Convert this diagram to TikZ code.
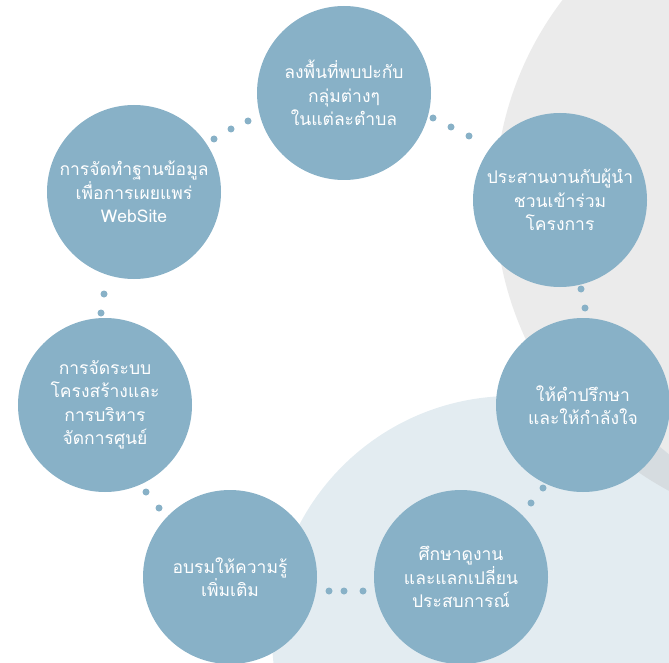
\documentclass[tikz,border=0pt]{standalone}
\usepackage{fontspec}
\newfontfamily\thaifont[Script=Thai]{Loma}
\definecolor{circ}{HTML}{88B1C7}
\definecolor{greybg}{HTML}{EBEBEB}
\definecolor{bluebg}{HTML}{E3ECF1}
\definecolor{overlapbg}{HTML}{D6DCE0}
\begin{document}
\begin{tikzpicture}[x=1pt,y=-1pt,
  stepcircle/.style={circle, fill=circ, minimum size=174pt, inner sep=0pt,
    text=white, align=center, font=\thaifont\fontsize{17.5}{23.5}\selectfont},
  dot/.style={circle, fill=circ, minimum size=7pt, inner sep=0pt}]
\useasboundingbox (0,0) rectangle (669,663);
\clip (0,0) rectangle (669,663);
% background shapes
\fill[greybg] (825,200) circle (330pt);
\fill[bluebg] (512,636) circle (240pt);
\begin{scope}
  \clip (825,200) circle (330pt);
  \fill[overlapbg] (512,636) circle (240pt);
\end{scope}
% dots
\foreach \x/\y in {214/139, 231/129, 248/121,
                   433/118, 451/127, 469/136,
                   581/289, 585/308,
                   543/488, 531/503,
                   329/591, 344/591, 363/591,
                   146/492, 159/508,
                   104/294, 101/313}
  \node[dot] at (\x,\y) {};
% circles
\node[stepcircle] (A) at (344,93) {ลงพื้นที่พบปะกับ\\กลุ่มต่างๆ\\ในแต่ละตำบล};
\node[stepcircle] (B) at (560,200) {ประสานงานกับผู้นำ\\ชวนเข้าร่วม\\โครงการ};
\node[stepcircle] (C) at (583,405) {ให้คำปรึกษา\\และให้กำลังใจ};
\node[stepcircle] (D) at (461,577) {ศึกษาดูงาน\\และแลกเปลี่ยน\\ประสบการณ์};
\node[stepcircle] (E) at (230,577) {อบรมให้ความรู้\\เพิ่มเติม};
\node[stepcircle] (F) at (105,405) {การจัดระบบ\\โครงสร้างและ\\การบริหาร\\จัดการศูนย์};
\node[stepcircle] (G) at (134,192) {การจัดทำฐานข้อมูล\\เพื่อการเผยแพร่\\WebSite};
\end{tikzpicture}
\end{document}
